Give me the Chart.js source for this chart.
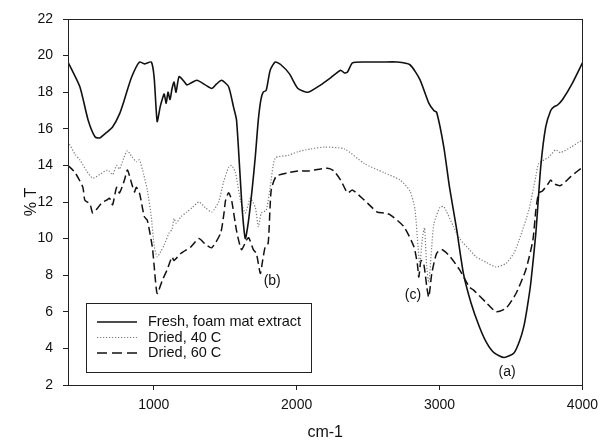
<!DOCTYPE html>
<html>
<head>
<meta charset="utf-8">
<script src="https://cdn.jsdelivr.net/npm/chart.js@4/dist/chart.umd.min.js"></script>
<style>
  html, body { margin: 0; padding: 0; background: #fff; }
  #wrap { width: 605px; height: 443px; }
</style>
</head>
<body>
<div id="wrap"><canvas id="ftir" width="605" height="443"></canvas></div>
<script>
// --- datos ---
const freshWn = [400, 483, 540, 590, 622, 670, 712, 760, 795, 844, 900, 934, 983, 1003, 1024, 1045, 1059, 1073, 1087, 1100, 1114, 1128, 1142, 1156, 1177, 1211, 1232, 1260, 1302, 1360, 1406, 1440, 1475, 1524, 1558, 1579, 1600, 1620, 1641, 1662, 1690, 1711, 1732, 1750, 1766, 1787, 1815, 1850, 1890, 1950, 2009, 2079, 2169, 2240, 2308, 2335, 2356, 2391, 2474, 2600, 2703, 2793, 2862, 2925, 2960, 2980, 3030, 3070, 3120, 3167, 3220, 3278, 3330, 3383, 3452, 3521, 3560, 3590, 3615, 3639, 3674, 3708, 3743, 3778, 3800, 3826, 3861, 3930, 4000];
const freshT = [19.65, 18.3, 16.5, 15.55, 15.5, 15.8, 16.1, 16.8, 17.6, 18.8, 19.65, 19.55, 19.65, 18.8, 16.4, 17.2, 17.6, 17.9, 17.4, 18.0, 17.6, 18.2, 18.55, 18.0, 18.85, 18.6, 18.4, 18.5, 18.65, 18.4, 18.2, 18.45, 18.65, 18.3, 17.2, 16.5, 14.0, 11.5, 10.0, 10.9, 12.8, 14.5, 16.5, 17.6, 18.0, 18.1, 19.2, 19.65, 19.5, 19.0, 18.2, 18.0, 18.4, 18.8, 19.2, 19.05, 19.1, 19.6, 19.65, 19.65, 19.65, 19.5, 18.7, 17.4, 17.0, 16.9, 15.0, 12.8, 10.5, 8.1, 6.5, 5.2, 4.3, 3.75, 3.5, 3.75, 4.4, 5.2, 6.3, 7.6, 10.3, 13.9, 16.1, 17.0, 17.2, 17.3, 17.6, 18.5, 19.6];

const dried40Wn = [400, 450, 483, 530, 573, 622, 677, 712, 740, 760, 790, 816, 845, 878, 900, 930, 955, 983, 1003, 1024, 1050, 1073, 1107, 1128, 1142, 1156, 1191, 1232, 1270, 1316, 1360, 1406, 1454, 1489, 1524, 1545, 1572, 1607, 1641, 1676, 1711, 1732, 1753, 1787, 1815, 1850, 1940, 2009, 2100, 2196, 2335, 2474, 2613, 2724, 2793, 2828, 2850, 2862, 2880, 2895, 2910, 2925, 2945, 2960, 3002, 3030, 3098, 3140, 3209, 3257, 3327, 3396, 3466, 3520, 3556, 3625, 3674, 3694, 3764, 3812, 3847, 3920, 4000];
const dried40T = [15.3, 14.6, 14.3, 13.7, 13.3, 13.5, 13.75, 13.5, 14.0, 13.8, 14.4, 14.8, 14.5, 14.2, 14.3, 13.5, 12.65, 11.2, 9.6, 9.0, 9.3, 9.65, 10.3, 10.5, 11.1, 10.85, 11.2, 11.45, 11.7, 12.0, 11.7, 11.45, 12.0, 13.1, 13.9, 14.0, 13.6, 12.1, 11.4, 12.2, 11.7, 10.65, 11.4, 11.55, 12.8, 14.4, 14.55, 14.75, 14.9, 15.0, 14.9, 14.1, 13.6, 13.2, 12.6, 11.6, 9.5, 8.6, 10.0, 10.6, 8.5, 7.6, 9.5, 10.8, 11.7, 11.75, 10.65, 10.0, 9.4, 9.0, 8.7, 8.45, 8.65, 9.2, 9.9, 11.55, 13.4, 14.1, 14.45, 14.85, 14.7, 15.0, 15.4];

const dried60Wn = [400, 450, 504, 518, 553, 573, 600, 636, 670, 691, 712, 740, 760, 795, 816, 844, 865, 878, 900, 934, 955, 990, 1003, 1024, 1059, 1094, 1128, 1142, 1191, 1260, 1316, 1360, 1406, 1468, 1490, 1503, 1524, 1545, 1579, 1614, 1648, 1665, 1697, 1718, 1746, 1760, 1780, 1801, 1822, 1857, 1940, 2009, 2079, 2217, 2260, 2308, 2356, 2391, 2474, 2564, 2613, 2655, 2751, 2821, 2845, 2855, 2870, 2890, 2911, 2925, 2946, 2980, 3015, 3070, 3140, 3209, 3237, 3327, 3396, 3466, 3535, 3604, 3653, 3674, 3694, 3720, 3760, 3778, 3800, 3847, 3920, 4000];
const dried60T = [14.0, 13.6, 12.8, 12.1, 11.9, 11.4, 11.6, 11.95, 12.1, 12.2, 11.85, 12.8, 12.5, 13.2, 13.75, 13.05, 12.55, 12.8, 12.5, 11.2, 11.0, 9.55, 8.5, 7.0, 7.7, 8.3, 9.0, 8.8, 9.2, 9.55, 10.0, 9.7, 9.5, 10.3, 11.3, 12.1, 12.5, 12.1, 10.45, 9.4, 9.9, 10.05, 9.4, 9.2, 8.1, 8.7, 9.55, 9.75, 12.65, 13.4, 13.6, 13.7, 13.7, 13.85, 13.7, 13.2, 12.5, 12.65, 12.1, 11.45, 11.4, 11.3, 10.65, 9.55, 8.6, 7.9, 8.8, 8.6, 7.35, 6.8, 8.1, 9.2, 9.4, 9.05, 8.3, 7.35, 7.2, 6.5, 6.0, 6.2, 7.0, 8.3, 9.9, 11.55, 12.5, 12.6, 13.0, 13.2, 13.0, 12.9, 13.4, 13.9];

const seriesNames = ['Fresh, foam mat extract', 'Dried, 40 C', 'Dried, 60 C'];
const xTickValues = [1000, 2000, 3000, 4000];
const yTickValues = [2, 4, 6, 8, 10, 12, 14, 16, 18, 20, 22];

// etiquetas de los picos (a), (b), (c)
const peakLabels = ['(a)', '(b)', '(c)'];
const peakLabelWn = [3473, 1829, 2814];
const peakLabelT = [2.7, 7.65, 6.9];

const FONT = 'Liberation Sans, Arial, sans-serif';

function toPoints(xs, ys) {
    return xs.map((x, i) => ({ x: x, y: ys[i] }));
}

// marco completo alrededor del area del grafico
const frameBox = {
    id: 'frameBox',
    afterDatasetsDraw(chart) {
        const { ctx, chartArea: a } = chart;
        ctx.save();
        ctx.strokeStyle = '#222';
        ctx.lineWidth = 1;
        ctx.strokeRect(Math.round(a.left) + 0.5, Math.round(a.top) + 0.5,
            Math.round(a.right - a.left), Math.round(a.bottom - a.top));
        ctx.restore();
    }
};

// textos (a) (b) (c) ubicados con las escalas
const peakText = {
    id: 'peakText',
    afterDatasetsDraw(chart) {
        const { ctx, scales } = chart;
        ctx.save();
        ctx.fillStyle = '#111';
        ctx.font = '14px ' + FONT;
        ctx.textAlign = 'center';
        ctx.textBaseline = 'middle';
        peakLabels.forEach((txt, i) => {
            ctx.fillText(txt, scales.x.getPixelForValue(peakLabelWn[i]), scales.y.getPixelForValue(peakLabelT[i]));
        });
        ctx.restore();
    }
};

// leyenda con recuadro dentro del grafico
const boxLegend = {
    id: 'boxLegend',
    afterDraw(chart) {
        const { ctx, chartArea: a } = chart;
        const left = Math.round(a.left) + 18, top = Math.round(a.top) + 284;
        const w = 225, h = 69;
        ctx.save();
        ctx.fillStyle = '#fff';
        ctx.fillRect(left, top, w, h);
        ctx.strokeStyle = '#222';
        ctx.lineWidth = 1;
        ctx.strokeRect(left + 0.5, top + 0.5, w, h);
        ctx.font = '14.5px ' + FONT;
        ctx.textBaseline = 'middle';
        chart.data.datasets.forEach((ds, i) => {
            const y = top + 19 + i * 15.5;
            ctx.beginPath();
            ctx.strokeStyle = ds.borderColor;
            ctx.lineWidth = ds.borderWidth;
            ctx.setLineDash(ds.legendDash || []);
            ctx.moveTo(left + 11, y);
            ctx.lineTo(left + 51, y);
            ctx.stroke();
            ctx.setLineDash([]);
            ctx.fillStyle = '#111';
            ctx.fillText(ds.label, left + 62, y);
        });
        ctx.restore();
    }
};

const chart = new Chart(document.getElementById('ftir'), {
    type: 'line',
    data: {
        datasets: [
            {
                label: seriesNames[0],
                data: toPoints(freshWn, freshT),
                borderColor: '#111',
                borderWidth: 1.6,
                legendDash: []
            },
            {
                label: seriesNames[1],
                data: toPoints(dried40Wn, dried40T),
                borderColor: '#7a7a7a',
                borderWidth: 1.2,
                borderDash: [1.2, 1.8],
                legendDash: [1.2, 1.8]
            },
            {
                label: seriesNames[2],
                data: toPoints(dried60Wn, dried60T),
                borderColor: '#111',
                borderWidth: 1.5,
                borderDash: [8, 4],
                legendDash: [10, 5]
            }
        ]
    },
    options: {
        responsive: false,
        animation: false,
        layout: { padding: { left: 0, top: 19, right: 18, bottom: 0 } },
        elements: {
            point: { radius: 0 },
            line: { tension: 0.2, fill: false }
        },
        scales: {
            x: {
                type: 'linear',
                min: 400,
                max: 4000,
                afterFit: s => { s.height = 58; },
                afterBuildTicks: s => { s.ticks = xTickValues.map(v => ({ value: v })); },
                grid: { display: true, drawOnChartArea: false, tickLength: 5, color: '#222' },
                border: { display: true, color: '#222', width: 1 },
                ticks: { color: '#111', font: { family: FONT, size: 14 }, padding: 7, maxRotation: 0, callback: v => String(v) },
                title: { display: true, text: 'cm-1', color: '#111', font: { family: FONT, size: 16 }, padding: { top: 0, bottom: 1 } }
            },
            y: {
                min: 2,
                max: 22,
                afterFit: s => { s.width = 68; },
                afterBuildTicks: s => { s.ticks = yTickValues.map(v => ({ value: v })); },
                grid: { display: true, drawOnChartArea: false, tickLength: 5, color: '#222' },
                border: { display: true, color: '#222', width: 1 },
                ticks: { color: '#111', font: { family: FONT, size: 14 }, padding: 10, callback: v => String(v) },
                title: { display: true, text: '% T', color: '#111', font: { family: FONT, size: 16 }, padding: { top: 22, bottom: 0 } }
            }
        },
        plugins: {
            legend: { display: false },
            tooltip: { enabled: false }
        }
    },
    plugins: [frameBox, peakText, boxLegend]
});
</script>
</body>
</html>
